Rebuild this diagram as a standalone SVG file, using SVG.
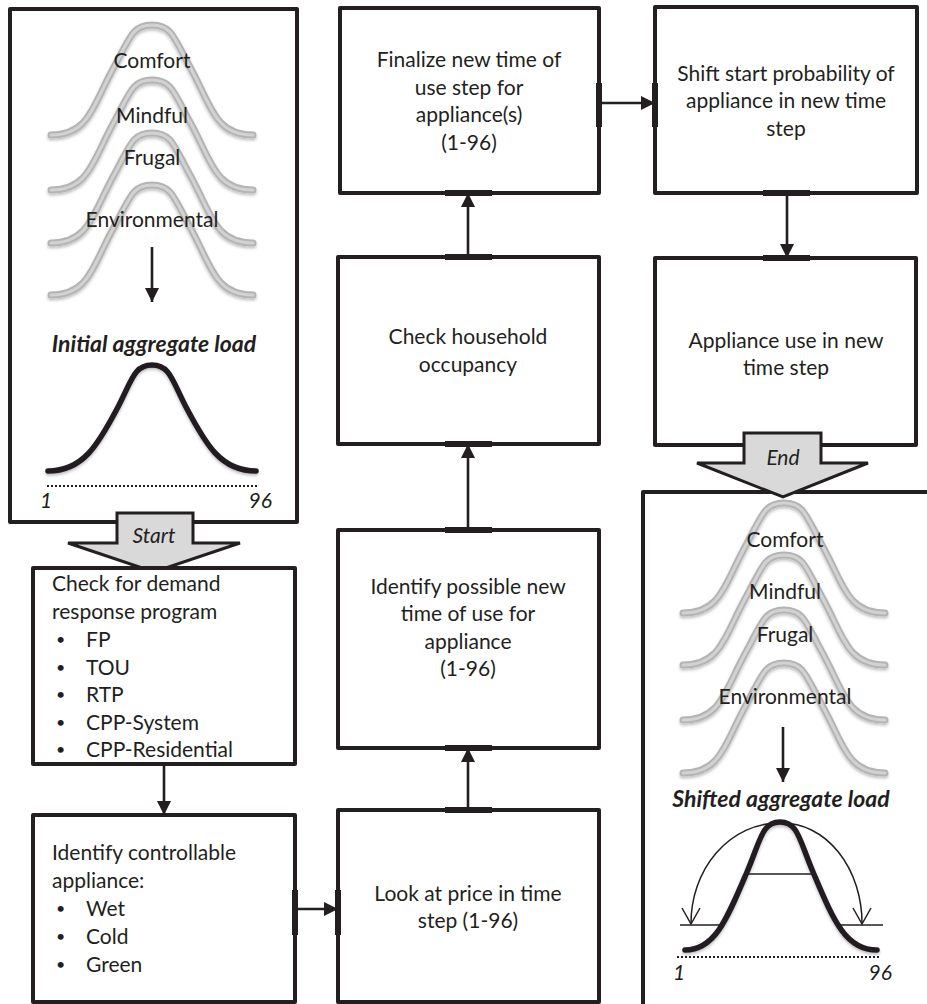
<svg xmlns="http://www.w3.org/2000/svg" width="927" height="1004" viewBox="0 0 927 1004">
  <style>
    .box { fill: #ffffff; stroke: #231f20; stroke-width: 4; stroke-linejoin: round; }
    .t { font-family: Lato, "Liberation Sans", sans-serif; font-size: 21px; fill: #231f20; }
    .c { text-anchor: middle; }
    .it { font-style: italic; }
    .bi { font-style: italic; font-weight: bold; font-size: 23px; }
    .bul { font-size: 16px; }
    .conn { stroke: #231f20; stroke-width: 2.6; fill: none; }
    .tab { fill: #231f20; }
    .bigarrow { fill: #d9d9d9; stroke: #231f20; stroke-width: 3; stroke-linejoin: miter; }
    .bellG { fill: none; stroke: #b4b4b4; stroke-width: 7; stroke-linecap: round; }
    .bellGi { fill: none; stroke: #d2d2d2; stroke-width: 3; stroke-linecap: round; }
    .bellK { fill: none; stroke: #231f20; stroke-width: 5.5; stroke-linecap: round; }
    .dots { stroke: #231f20; stroke-width: 2; stroke-dasharray: 2 2; }
    .thin { stroke: #231f20; stroke-width: 1.5; fill: none; }
  </style>
  <defs>
    <marker id="ah" viewBox="0 0 10 10" refX="10" refY="5" markerWidth="5.4" markerHeight="5.4" markerUnits="strokeWidth" orient="auto">
      <path d="M0,0 L10,5 L0,10 z" fill="#231f20"/>
    </marker>
    <filter id="sh" x="-20%" y="-20%" width="140%" height="140%">
      <feDropShadow dx="0" dy="2" stdDeviation="1.5" flood-color="#000" flood-opacity="0.25"/>
    </filter>
    <!-- generic bell curve centred on (0,0) = base centre -->
    <path id="bell" d="M-101,0 C-63,0 -60,-28 -38,-68 C-22,-97 -20,-110 0,-110 C20,-110 22,-97 38,-68 C60,-28 63,0 101,0"/>
  </defs>

  <!-- initial profiles -->
  <g id="initial-load">
    <rect class="box" x="10" y="9" width="287" height="513"/>
    <g filter="url(#sh)">
      <use href="#bell" class="bellG" transform="translate(152,135)"/>
      <use href="#bell" class="bellGi" transform="translate(152,135)"/>
      <use href="#bell" class="bellG" transform="translate(152,190)"/>
      <use href="#bell" class="bellGi" transform="translate(152,190)"/>
      <use href="#bell" class="bellG" transform="translate(152,243)"/>
      <use href="#bell" class="bellGi" transform="translate(152,243)"/>
      <use href="#bell" class="bellG" transform="translate(152,295)"/>
      <use href="#bell" class="bellGi" transform="translate(152,295)"/>
    </g>
    <text class="t c" x="152" y="68">Comfort</text>
    <text class="t c" x="152" y="123">Mindful</text>
    <text class="t c" x="152" y="165">Frugal</text>
    <text class="t c" x="152" y="227">Environmental</text>
    <line class="conn" x1="152" y1="247" x2="152" y2="302" marker-end="url(#ah)"/>
    <text class="t c bi" x="154" y="352">Initial aggregate load</text>
    <path class="bellK" filter="url(#sh)" d="M48,471 C83,471 98,445 118,407 C132,380 134,365 152,365 C170,365 172,380 186,407 C206,445 221,471 256,471"/>
    <line class="dots" x1="47" y1="486" x2="258" y2="486"/>
    <text class="t it" x="40" y="508">1</text>
    <text class="t it" x="272" y="508" text-anchor="end">96</text>
  </g>

  <g id="start-arrow">
    <polygon class="bigarrow" points="117,513 193,513 193,543 240,543 154,572 68,543 117,543"/>
    <text class="t c it" x="154" y="543">Start</text>
  </g>

  <g id="check-program">
    <rect class="box" x="33" y="568" width="262" height="196"/>
    <text class="t" x="52" y="591">Check for demand</text>
    <text class="t" x="52" y="619">response program</text>
    <text class="t bul" x="56" y="645">•</text><text class="t" x="86" y="647">FP</text>
    <text class="t bul" x="56" y="673">•</text><text class="t" x="86" y="675">TOU</text>
    <text class="t bul" x="56" y="700">•</text><text class="t" x="86" y="702">RTP</text>
    <text class="t bul" x="56" y="728">•</text><text class="t" x="86" y="730">CPP-System</text>
    <text class="t bul" x="56" y="755">•</text><text class="t" x="86" y="757">CPP-Residential</text>
  </g>

  <g id="identify-appliance">
    <rect class="box" x="33" y="815" width="262" height="187"/>
    <text class="t" x="52" y="860">Identify controllable</text>
    <text class="t" x="52" y="888">appliance:</text>
    <text class="t bul" x="56" y="914">•</text><text class="t" x="86" y="916">Wet</text>
    <text class="t bul" x="56" y="942">•</text><text class="t" x="86" y="944">Cold</text>
    <text class="t bul" x="56" y="970">•</text><text class="t" x="86" y="972">Green</text>
  </g>

  <g id="look-price">
    <rect class="box" x="338" y="810" width="261" height="192"/>
    <text class="t c" x="468" y="901">Look at price in time</text>
    <text class="t c" x="468" y="928">step (1-96)</text>
  </g>

  <g id="identify-time">
    <rect class="box" x="338" y="530" width="261" height="218"/>
    <text class="t c" x="468" y="594">Identify possible new</text>
    <text class="t c" x="468" y="621">time of use for</text>
    <text class="t c" x="468" y="649">appliance</text>
    <text class="t c" x="468" y="676">(1-96)</text>
  </g>

  <g id="check-occupancy">
    <rect class="box" x="338" y="257" width="261" height="187"/>
    <text class="t c" x="468" y="344">Check household</text>
    <text class="t c" x="468" y="372">occupancy</text>
  </g>

  <g id="finalize-time">
    <rect class="box" x="340" y="8" width="259" height="185"/>
    <text class="t c" x="469" y="67">Finalize new time of</text>
    <text class="t c" x="469" y="95">use step for</text>
    <text class="t c" x="469" y="122">appliance(s)</text>
    <text class="t c" x="469" y="150">(1-96)</text>
  </g>

  <g id="shift-probability">
    <rect class="box" x="655" y="7" width="262" height="186"/>
    <text class="t c" x="786" y="81">Shift start probability of</text>
    <text class="t c" x="786" y="108">appliance in new time</text>
    <text class="t c" x="786" y="136">step</text>
  </g>

  <g id="appliance-use">
    <rect class="box" x="655" y="258" width="261" height="187"/>
    <text class="t c" x="786" y="348">Appliance use in new</text>
    <text class="t c" x="786" y="375">time step</text>
  </g>

  <!-- shifted profiles -->
  <g id="shifted-load">
    <rect class="box" x="643" y="492" width="300" height="530"/>
    <g filter="url(#sh)">
      <use href="#bell" class="bellG" transform="translate(784,613)"/>
      <use href="#bell" class="bellGi" transform="translate(784,613)"/>
      <use href="#bell" class="bellG" transform="translate(784,665)"/>
      <use href="#bell" class="bellGi" transform="translate(784,665)"/>
      <use href="#bell" class="bellG" transform="translate(784,720)"/>
      <use href="#bell" class="bellGi" transform="translate(784,720)"/>
      <use href="#bell" class="bellG" transform="translate(784,773)"/>
      <use href="#bell" class="bellGi" transform="translate(784,773)"/>
    </g>
    <text class="t c" x="785" y="547">Comfort</text>
    <text class="t c" x="785" y="599">Mindful</text>
    <text class="t c" x="785" y="642">Frugal</text>
    <text class="t c" x="785" y="704">Environmental</text>
    <line class="conn" x1="783" y1="727" x2="783" y2="782" marker-end="url(#ah)"/>
    <text class="t c bi" x="781" y="807">Shifted aggregate load</text>
    <line class="thin" x1="747" y1="874" x2="814" y2="874"/>
    <line class="thin" x1="680" y1="925" x2="723" y2="925"/>
    <line class="thin" x1="838" y1="925" x2="883" y2="925"/>
    <path class="bellK" filter="url(#sh)" d="M685,950 C715,950 727,919 747,872 C761,839 762,822 780,822 C798,822 799,839 813,872 C833,919 845,950 877,950"/>
    <path class="thin" d="M778,823 A 88 100 0 0 0 691,923"/>
    <path class="thin" d="M782,823 A 80 100 0 0 1 862,923"/>
    <polyline class="thin" points="682,908 691,924 700,908"/>
    <polyline class="thin" points="853,908 862,924 871,908"/>
    <line class="dots" x1="677" y1="957" x2="881" y2="957"/>
    <text class="t it" x="673" y="980">1</text>
    <text class="t it" x="892" y="980" text-anchor="end">96</text>
  </g>

  <g id="end-arrow">
    <polygon class="bigarrow" points="744,433 821,433 821,463 868,463 783,497 697,463 744,463"/>
    <text class="t c it" x="783" y="465">End</text>
  </g>

  <g id="connectors">
    <line class="conn" x1="164" y1="764" x2="164" y2="815" marker-end="url(#ah)"/>
    <line class="conn" x1="295" y1="909" x2="338" y2="909" marker-end="url(#ah)"/>
    <line class="conn" x1="468" y1="810" x2="468" y2="748" marker-end="url(#ah)"/>
    <line class="conn" x1="468" y1="530" x2="468" y2="444" marker-end="url(#ah)"/>
    <line class="conn" x1="468" y1="257" x2="468" y2="193" marker-end="url(#ah)"/>
    <line class="conn" x1="599" y1="103" x2="655" y2="103" marker-end="url(#ah)"/>
    <line class="conn" x1="787" y1="193" x2="787" y2="258" marker-end="url(#ah)"/>
    <!-- heavier edge segments where connectors attach -->
    <rect class="tab" x="292" y="890" width="6" height="45"/>
    <rect class="tab" x="335" y="890" width="6" height="45"/>
    <rect class="tab" x="445" y="807" width="47" height="6"/>
    <rect class="tab" x="445" y="745" width="47" height="6"/>
    <rect class="tab" x="445" y="527" width="47" height="6"/>
    <rect class="tab" x="445" y="441" width="47" height="6"/>
    <rect class="tab" x="445" y="254" width="47" height="6"/>
    <rect class="tab" x="445" y="190" width="47" height="6"/>
    <rect class="tab" x="596" y="83" width="6" height="44"/>
    <rect class="tab" x="652" y="83" width="6" height="44"/>
    <rect class="tab" x="763" y="190" width="47" height="6"/>
    <rect class="tab" x="763" y="255" width="47" height="6"/>
  </g>
</svg>
